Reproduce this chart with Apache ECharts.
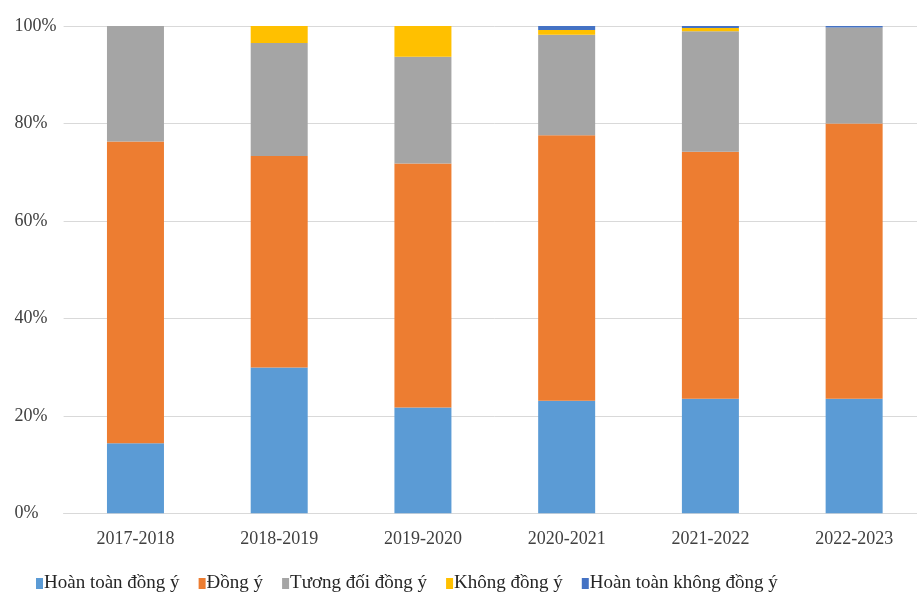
<!DOCTYPE html>
<html>
<head>
<meta charset="utf-8">
<style>
  html, body { margin: 0; padding: 0; background: #fff; overflow: hidden; }
  /* the plot area runs a few pixels past the right edge of the window */
  #chart { width: 926px; height: 597px; }
</style>
<script src="https://cdn.jsdelivr.net/npm/echarts@6/dist/echarts.min.js"></script>
</head>
<body>
<div id="chart"></div>
<script>
// School years on the x axis
const years = ['2017-2018', '2018-2019', '2019-2020', '2020-2021', '2021-2022', '2022-2023'];

// Share of responses (%) per answer level
const hoanToanDongY = [14.4, 29.9, 21.7, 23.1, 23.5, 23.5];
const dongY = [61.9, 43.4, 50.1, 54.5, 50.7, 56.5];
const tuongDoiDongY = [23.7, 23.2, 21.9, 20.6, 24.7, 19.7];
const khongDongY = [0, 3.5, 6.3, 1.0, 0.7, 0];
const hoanToanKhongDongY = [0, 0, 0, 0.8, 0.4, 0.3];

const seriesNames = ['Hoàn toàn đồng ý', 'Đồng ý', 'Tương đối đồng ý', 'Không đồng ý', 'Hoàn toàn không đồng ý'];
const seriesData = [hoanToanDongY, dongY, tuongDoiDongY, khongDongY, hoanToanKhongDongY];
const colors = ['#5B9BD5', '#ED7D31', '#A5A5A5', '#FFC000', '#4472C4'];

const font = '"Liberation Serif", "Times New Roman", serif';

const chart = echarts.init(document.getElementById('chart'), null, { renderer: 'canvas' });

chart.setOption({
  animation: false,
  color: colors,
  grid: { left: 63.6, right: 0, top: 26, height: 487.3, containLabel: false },
  legend: {
    data: seriesNames,
    left: 36,
    top: 574,
    padding: 0,
    itemWidth: 7,
    itemHeight: 11,
    itemGap: 19,
    icon: 'rect',
    textStyle: { fontFamily: font, fontSize: 19, color: '#262626', padding: [0, 0, 0, -4] }
  },
  xAxis: {
    type: 'category',
    data: years,
    axisLine: { show: true, lineStyle: { color: '#d9d9d9', width: 1 } },
    axisTick: { show: false },
    axisLabel: { fontFamily: font, fontSize: 18, color: '#404040', margin: 17 }
  },
  yAxis: {
    type: 'value',
    min: 0,
    max: 100,
    interval: 20,
    axisLine: { show: false },
    axisTick: { show: false },
    splitLine: { lineStyle: { color: '#d9d9d9', width: 1 } },
    axisLabel: {
      formatter: '{value}%',
      fontFamily: font,
      fontSize: 18,
      color: '#404040',
      align: 'left',
      margin: 49,
      padding: [4, 0, 0, 0]
    }
  },
  series: seriesNames.map((name, i) => ({
    name: name,
    type: 'bar',
    stack: 'total',
    barWidth: 57,
    data: seriesData[i],
    itemStyle: { color: colors[i] }
  }))
});
</script>
</body>
</html>
